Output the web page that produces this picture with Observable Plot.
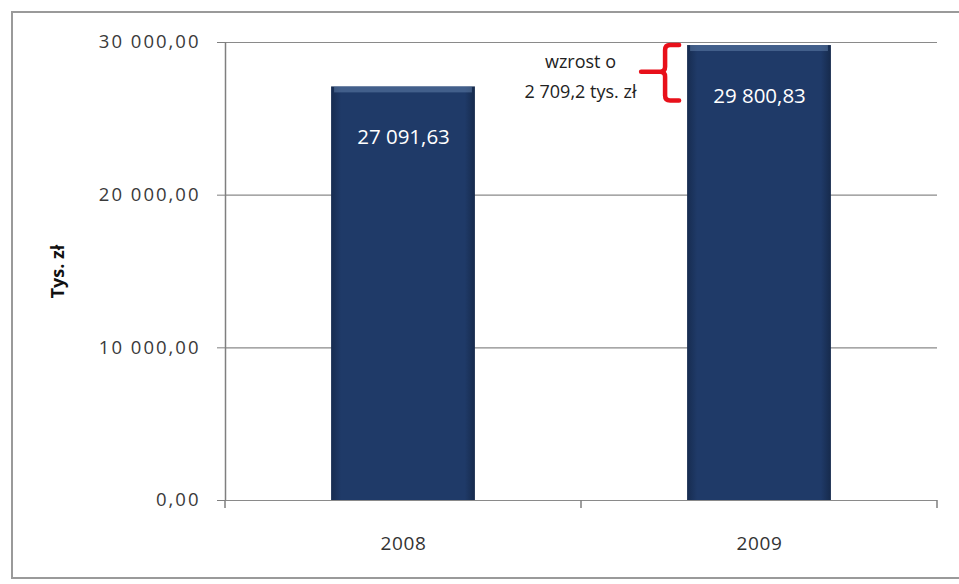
<!DOCTYPE html>
<html>
<head>
<meta charset="utf-8">
<script src="https://cdn.jsdelivr.net/npm/d3@7"></script>
<script src="https://cdn.jsdelivr.net/npm/@observablehq/plot@0.6"></script>
<style>
  html, body { margin: 0; padding: 0; background: #fff; }
  #wrap { position: relative; width: 959px; height: 584px; overflow: hidden; }
  #border { position: absolute; left: 11px; top: 11px; width: 960px; height: 568px; border: 2px solid #9a9a9a; box-sizing: border-box; pointer-events: none; }
  #chart { position: absolute; left: 0; top: 0; }
  g[aria-label="y-axis tick label"] text { letter-spacing: 2px; }
  g[aria-label="x-axis tick label"] text { letter-spacing: 0.6px; }
  g[aria-label="bar-values"] text { letter-spacing: 1.2px; }
  g[aria-label="increase-note"] text { letter-spacing: 0.8px; }
</style>
</head>
<body>
<div id="wrap"><div id="chart"></div><div id="border"></div></div>
<script>
const years = ["2008", "2009"];
const values = [27091.63, 29800.83];
const yTicks = [0, 10000, 20000, 30000];
const annotationLines = ["wzrost o", "2 709,2 tys. zł"];
const yLabel = "Tys. zł";

const data = years.map((y, i) => ({year: y, value: values[i]}));

const fmt = (v) => {
  const [ip, dp] = Math.abs(v).toFixed(2).split(".");
  const g = ip.replace(/\B(?=(\d{3})+(?!\d))/g, " ");
  return (v < 0 ? "-" : "") + g + "," + dp;
};

const font = "'Open Sans', sans-serif";
const barInsetFrac = 0.298;

const defsMark = () => {
  const svg = d3.create("svg:g");
  const defs = svg.append("defs");
  const g = defs.append("linearGradient").attr("id", "barGrad").attr("x1", 0).attr("x2", 1).attr("y1", 0).attr("y2", 0);
  g.append("stop").attr("offset", "0%").attr("stop-color", "#172c50");
  g.append("stop").attr("offset", "7%").attr("stop-color", "#1f3a68");
  g.append("stop").attr("offset", "93%").attr("stop-color", "#1f3a68");
  g.append("stop").attr("offset", "100%").attr("stop-color", "#162a4c");
  return svg.node();
};

// band-boundary ticks on the x axis
const xBoundaryTicks = (index, scales) => {
  const g = d3.create("svg:g").attr("stroke", "#7f7f7f").attr("stroke-width", 1.5);
  const bw = scales.x.bandwidth();
  const step = scales.x.step();
  const y0 = scales.y(0);
  const edges = years.map(y => scales.x(y) - (step - bw) / 2);
  edges.push(scales.x(years[years.length - 1]) + bw + (step - bw) / 2);
  for (const x of edges) {
    g.append("line").attr("x1", x).attr("x2", x).attr("y1", y0).attr("y2", y0 + 8);
  }
  return g.node();
};

// bevel highlight on top of each bar
const bevel = (index, scales) => {
  const g = d3.create("svg:g");
  const step = scales.x.step();
  const bw = scales.x.bandwidth();
  for (const d of data) {
    const x0 = scales.x(d.year) - (step - bw) / 2 + barInsetFrac * step;
    const x1 = x0 + step * (1 - 2 * barInsetFrac);
    const yt = scales.y(d.value);
    g.append("rect").attr("x", x0 + 3).attr("y", yt).attr("width", x1 - x0 - 6).attr("height", 6)
      .attr("fill", "#6683ad").attr("opacity", 0.5);
  }
  return g.node();
};

// red curly brace for the increase
const brace = (index, scales) => {
  const step = scales.x.step();
  const bw = scales.x.bandwidth();
  const xb = scales.x("2009") - (step - bw) / 2 + barInsetFrac * step; // left edge of 2009 bar
  const top = scales.y(values[1]);
  const bot = scales.y(values[0]) + 14;
  const mid = (top + bot) / 2 - 1;
  const xr = xb - 8, xv = xb - 22, xl = xb - 46;
  const r = 5;
  const p = `M${xr},${top} L${xv + r},${top} Q${xv},${top} ${xv},${top + r} L${xv},${mid - r} Q${xv},${mid} ${xv - r},${mid} L${xl},${mid}` +
            ` M${xv - r},${mid} Q${xv},${mid} ${xv},${mid + r} L${xv},${bot - r} Q${xv},${bot} ${xv + r},${bot} L${xr},${bot}`;
  return d3.create("svg:path").attr("d", p).attr("fill", "none").attr("stroke", "#e8101a")
    .attr("stroke-width", 4.5).attr("stroke-linejoin", "round").attr("stroke-linecap", "round").node();
};

const chart = Plot.plot({
  width: 959,
  height: 584,
  marginLeft: 225,
  marginRight: 22,
  marginTop: 42,
  marginBottom: 84,
  style: {fontFamily: font, fontSize: "18px", color: "#333", background: "transparent"},
  x: {domain: years, padding: 0, label: null},
  y: {domain: [0, 30000], label: null},
  marks: [
    defsMark,
    Plot.ruleY(yTicks, {stroke: "#8a8a8a", strokeWidth: 1.2}),
    Plot.barY(data, {x: "year", y: "value", fill: "url(#barGrad)", insetLeft: barInsetFrac * 356, insetRight: barInsetFrac * 356}),
    bevel,
    Plot.ruleX([0], {x: () => years[0], dx: -178, y1: 0, y2: 30000, stroke: "#7f7f7f", strokeWidth: 1.5}),
    Plot.axisY({ticks: yTicks, tickFormat: fmt, tickSize: 8, tickPadding: 17, fontSize: 18.5, stroke: "#7f7f7f", fill: "#3a3a3a"}),
    Plot.axisX({tickSize: 0, tickPadding: 36, fontSize: 19, fill: "#333"}),
    xBoundaryTicks,
    Plot.text(data, {ariaLabel: "bar-values", x: "year", y: "value", text: d => fmt(d.value), dy: 51, fill: "white", fontSize: 20.5}),
    Plot.text([annotationLines.join("\n")], {ariaLabel: "increase-note", x: () => "2009", y: () => values[1], dx: -179, dy: 28, lineHeight: 1.65, fontSize: 18, fill: "#222", text: d => d}),
    brace,
    Plot.text([yLabel], {frameAnchor: "left", textAnchor: "middle", dx: -167, rotate: -90, fontWeight: "bold", fontSize: 18, fill: "#111", text: d => d})
  ]
});
document.getElementById("chart").appendChild(chart);
</script>
</body>
</html>
